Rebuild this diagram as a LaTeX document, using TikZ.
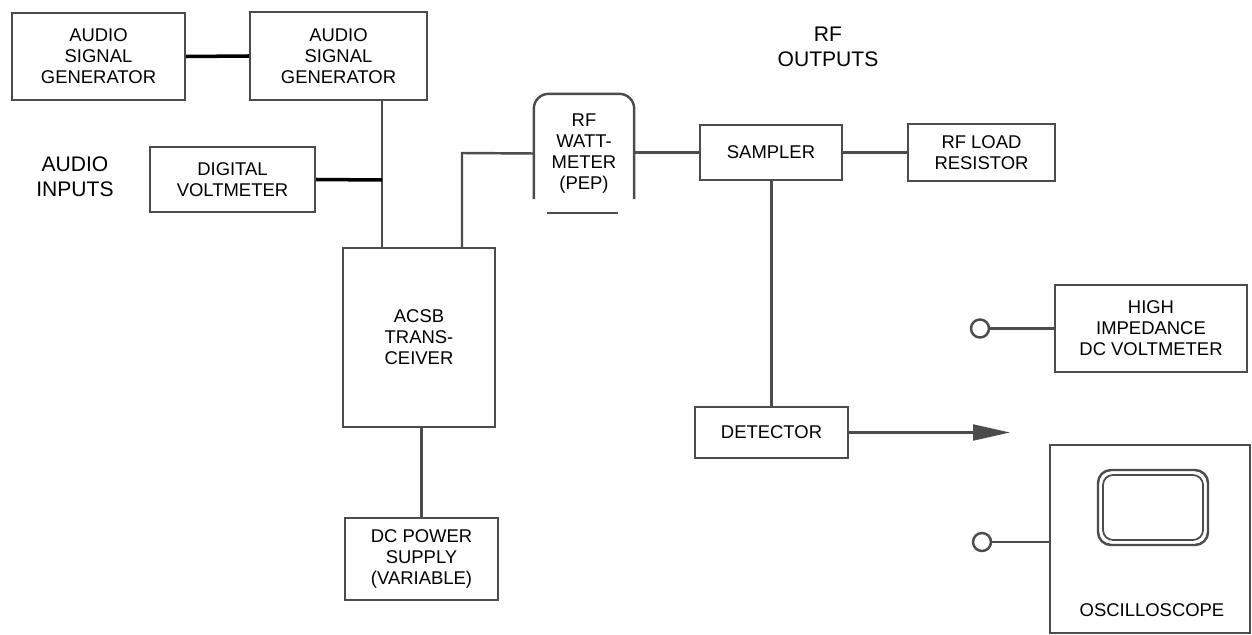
\documentclass[tikz,border=0pt]{standalone}
\usepackage{fontspec}
\setmainfont{Liberation Sans}
\usetikzlibrary{arrows.meta}
\definecolor{ink}{gray}{0.3}
\begin{document}
\begin{tikzpicture}[x=0.02cm,y=-0.02cm,
  line width=1.4pt,
  unit/.style={draw=ink,align=center,inner sep=0pt,font=\fontsize{10.5}{12}\selectfont},
  wire/.style={draw=ink},
  tie/.style={draw=black,line width=2pt},
  caption/.style={align=center,font=\fontsize{12}{14.5}\selectfont},
  terminal/.style={circle,draw=ink,minimum size=0.36cm,inner sep=0pt}]
\useasboundingbox (0,0) rectangle (1252,635);
\node [unit,minimum width=3.46cm,minimum height=1.74cm] (asgA) at (98.5,56.5) {AUDIO\\SIGNAL\\GENERATOR};
\node [unit,minimum width=3.54cm,minimum height=1.76cm] (asgB) at (338.5,56) {AUDIO\\SIGNAL\\GENERATOR};
\node [unit,minimum width=3.3cm,minimum height=1.3cm] (dvm) at (232.5,179.5) {DIGITAL\\VOLTMETER};
\node [caption] (audioin) at (75,177) {AUDIO\\INPUTS};
\node [unit,minimum width=3.04cm,minimum height=3.58cm] (trx) at (419,337.5) {ACSB\\TRANS-\\CEIVER};
\node [unit,minimum width=3.06cm,minimum height=1.64cm] (dcps) at (421.5,559) {DC POWER\\SUPPLY\\(VARIABLE)};
\node [unit,draw=none,minimum width=1.96cm,minimum height=2.34cm] (watt) at (584,153.5) {RF\\WATT-\\METER\\(PEP)};
\node [unit,minimum width=2.84cm,minimum height=1.1cm] (sampler) at (771,152.5) {SAMPLER};
\node [unit,minimum width=2.94cm,minimum height=1.14cm] (load) at (981.5,152.5) {RF LOAD\\RESISTOR};
\node [caption] (rfout) at (828,47) {RF\\OUTPUTS};
\node [unit,minimum width=3.06cm,minimum height=1.02cm] (det) at (771.5,432.5) {DETECTOR};
\node [unit,minimum width=3.84cm,minimum height=1.74cm] (hv) at (1151,328.5) {HIGH\\IMPEDANCE\\DC VOLTMETER};
\node [terminal] (hvin) at (980,328.5) {};
\node [unit,minimum width=4cm,minimum height=3.76cm] (scope) at (1150,539) {};
\node [unit,draw=none] (scopetxt) at (1152,610) {OSCILLOSCOPE};
\node [terminal] (scopein) at (982,542) {};
\coordinate (bus) at (382,180);
\coordinate (rfup) at (462,153);
\coordinate (probe) at (1010,432.5);

\draw [ink,rounded corners=0.3cm] ([yshift=0.28cm]watt.south west) -- (watt.north west) -- (watt.north east) -- ([yshift=0.28cm]watt.south east);
\draw [ink] ([xshift=0.26cm]watt.south west) -- ([xshift=-0.32cm]watt.south east);
\draw [ink,rounded corners=0.26cm] (1098,470) rectangle (1208,545);
\draw [ink,line width=1pt,rounded corners=0.2cm] (1103,475) rectangle (1203,540);

\draw [tie] (asgA.east) -- (asgB.west);
\draw [wire] (asgB.south -| bus) -- (trx.north -| bus);
\draw [tie] (dvm.east) -- (bus);
\draw [wire] (trx.north -| rfup) -- (rfup) -- (watt.west);
\draw [wire] (trx.south -| dcps.north) -- (dcps.north);
\draw [wire] (watt.east |- sampler.west) -- (sampler.west);
\draw [wire] (sampler.east) -- (load.west);
\draw [wire] (sampler.south -| det.north) -- (det.north);
\draw [wire,-{Triangle[length=21pt,width=9pt]}] (det.east) -- (probe);
\draw [wire] (hvin) -- (hv.west);
\draw [wire] (scopein) -- (scope.west |- scopein);
\end{tikzpicture}
\end{document}
